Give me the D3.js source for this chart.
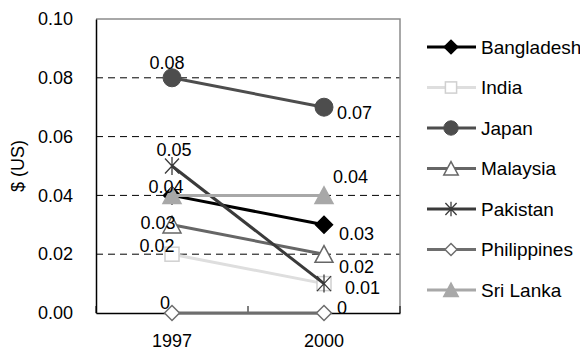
<!DOCTYPE html>
<html>
<head>
<meta charset="utf-8">
<script src="https://cdn.jsdelivr.net/npm/d3@7"></script>
<style>
  html, body { margin: 0; padding: 0; background: #fff; }
  svg { display: block; font-family: "Liberation Sans", Arial, sans-serif; }
</style>
</head>
<body>
<svg id="chart" width="580" height="352"></svg>
<script>
// Cost per unit, $ (US), by country
const years = ["1997", "2000"];
const countries = ["Bangladesh", "India", "Japan", "Malaysia", "Pakistan", "Philippines", "Sri Lanka"];
const bangladesh = [0.04, 0.03];
const india = [0.02, 0.01];
const japan = [0.08, 0.07];
const malaysia = [0.03, 0.02];
const pakistan = [0.05, 0.01];
const philippines = [0, 0];
const sriLanka = [0.04, 0.04];
const yTicks = [0, 0.02, 0.04, 0.06, 0.08, 0.10];

// Look of each series: colour, marker, and where its value labels sit (dx, dy per year; null = no label)
const styles = {
  "Bangladesh": { color: "#000000", marker: "diamond", fill: "#000000", labels: [null, [15, 15]] },
  "India": { color: "#dedede", marker: "square", fill: "#ffffff", stroke: "#d0d0d0", labels: [[-15, -2], null] },
  "Japan": { color: "#4d4d4d", marker: "circle", fill: "#4d4d4d", labels: [[-5, -9], [13, 12]] },
  "Malaysia": { color: "#666666", marker: "triangle", fill: "#ffffff", labels: [[-14, 4], [15, 19]] },
  "Pakistan": { color: "#3a3a3a", marker: "asterisk", fill: "none", labels: [[2, -10], [21, 10]] },
  "Philippines": { color: "#6e6e6e", marker: "diamond", fill: "#ffffff", small: true, labels: [[-7, -4], [13, 1]] },
  "Sri Lanka": { color: "#a8a8a8", marker: "triangle", fill: "#a8a8a8", labels: [[-6, -2], [9, -12]] }
};

const seriesValues = [bangladesh, india, japan, malaysia, pakistan, philippines, sriLanka];
const series = countries.map((name, i) => ({ name, values: seriesValues[i], style: styles[name] }));

const FONT = 18;
const svg = d3.select("#chart");
const margin = { left: 96, right: 180, top: 19, bottom: 39 };
const W = 580, H = 352;
const x = d3.scaleBand().domain(years).range([margin.left, W - margin.right]);
const y = d3.scaleLinear().domain([0, 0.10]).range([H - margin.bottom, margin.top]);
const cx = d => x(d) + x.bandwidth() / 2;

// Dashed horizontal gridlines
svg.append("g").selectAll("line")
  .data(yTicks.filter(t => t > 0 && t < 0.10))
  .join("line")
  .attr("x1", margin.left).attr("x2", W - margin.right)
  .attr("y1", d => y(d)).attr("y2", d => y(d))
  .attr("stroke", "#000").attr("stroke-width", 1)
  .attr("stroke-dasharray", "7,5");

// Plot frame: top and right edges
svg.append("path")
  .attr("d", `M${margin.left},${y(0.10)}H${W - margin.right}V${y(0)}`)
  .attr("fill", "none").attr("stroke", "#8c8c8c").attr("stroke-width", 1.5);

// Y axis
const yAxis = d3.axisLeft(y).tickValues(yTicks).tickFormat(d3.format(".2f")).tickSize(0).tickPadding(23);
const gy = svg.append("g").attr("transform", `translate(${margin.left},0)`).call(yAxis);
gy.select(".domain").attr("stroke", "#000").attr("stroke-width", 1.5);
gy.selectAll("text").attr("font-size", FONT).attr("fill", "#000").attr("font-family", "Liberation Sans, Arial, sans-serif");

// X axis with inward ticks at category boundaries
const gx = svg.append("g").attr("transform", `translate(0,${y(0)})`)
  .call(d3.axisBottom(x).tickSize(0).tickPadding(28));
gx.select(".domain").attr("stroke", "#000").attr("stroke-width", 1.5);
gx.selectAll("text").attr("font-size", FONT).attr("fill", "#000").attr("font-family", "Liberation Sans, Arial, sans-serif")
  .attr("dy", "0.35em");
const bounds = [x.range()[0], x(years[1]), x.range()[1]];
gx.append("g").selectAll("line").data(bounds).join("line")
  .attr("x1", d => d).attr("x2", d => d).attr("y1", 0).attr("y2", -7)
  .attr("stroke", "#000").attr("stroke-width", 1);

// Y axis title
svg.append("text")
  .attr("transform", `translate(24,${(y(0) + y(0.10)) / 2}) rotate(-90)`)
  .attr("text-anchor", "middle")
  .attr("font-size", FONT)
  .text("$ (US)");

// Marker drawing
function drawMarker(g, st, px, py, scale) {
  const s = scale || 1;
  if (st.marker === "circle") {
    g.append("circle").attr("cx", px).attr("cy", py).attr("r", 9 * s).attr("fill", st.fill).attr("stroke", st.color);
  } else if (st.marker === "diamond") {
    const r = (st.small ? 7.5 : 8.5) * s;
    g.append("path").attr("d", `M${px},${py - r}L${px + r},${py}L${px},${py + r}L${px - r},${py}Z`)
      .attr("fill", st.fill).attr("stroke", st.color).attr("stroke-width", 1.5);
  } else if (st.marker === "square") {
    const r = 7 * s;
    g.append("rect").attr("x", px - r).attr("y", py - r).attr("width", 2 * r).attr("height", 2 * r)
      .attr("fill", st.fill).attr("stroke", st.stroke || st.color).attr("stroke-width", 1.5);
  } else if (st.marker === "triangle") {
    const r = 9 * s;
    g.append("path").attr("d", `M${px},${py - r * 0.95}L${px + r},${py + r * 0.9}L${px - r},${py + r * 0.9}Z`)
      .attr("fill", st.fill).attr("stroke", st.color).attr("stroke-width", 1.5);
  } else if (st.marker === "asterisk") {
    const rx = 7 * s, ry = 7.5 * s, rv = 9 * s;
    g.append("path").attr("d",
      `M${px - rx},${py - ry}L${px + rx},${py + ry}M${px + rx},${py - ry}L${px - rx},${py + ry}M${px},${py - rv}L${px},${py + rv}`)
      .attr("stroke", st.color).attr("stroke-width", 1.3).attr("fill", "none");
  }
}

// Series lines, markers and value labels
const line = d3.line().x((d, i) => cx(years[i])).y(d => y(d));
const plot = svg.append("g");
series.forEach(s => {
  const g = plot.append("g");
  g.append("path").attr("d", line(s.values))
    .attr("fill", "none").attr("stroke", s.style.color).attr("stroke-width", 3);
  s.values.forEach((v, i) => drawMarker(g, s.style, cx(years[i]), y(v)));
});
series.forEach(s => {
  s.values.forEach((v, i) => {
    const off = s.style.labels[i];
    if (!off) return;
    plot.append("text")
      .attr("x", cx(years[i]) + off[0]).attr("y", y(v) + off[1])
      .attr("text-anchor", i === 0 ? "middle" : "start")
      .attr("font-size", FONT)
      .attr("fill", "#000")
      .text(v === 0 ? "0" : d3.format(".2f")(v));
  });
});

// Legend
const legend = svg.append("g");
series.forEach((s, i) => {
  const ly = 47 + i * 40.5;
  const g = legend.append("g");
  g.append("line").attr("x1", 427).attr("x2", 476).attr("y1", ly).attr("y2", ly)
    .attr("stroke", s.style.color).attr("stroke-width", 3);
  drawMarker(g, s.style, 451, ly, 0.8);
  g.append("text").attr("x", 481).attr("y", ly).attr("dy", "0.35em")
    .attr("font-size", 19).attr("fill", "#000").text(s.name);
});
</script>
</body>
</html>
